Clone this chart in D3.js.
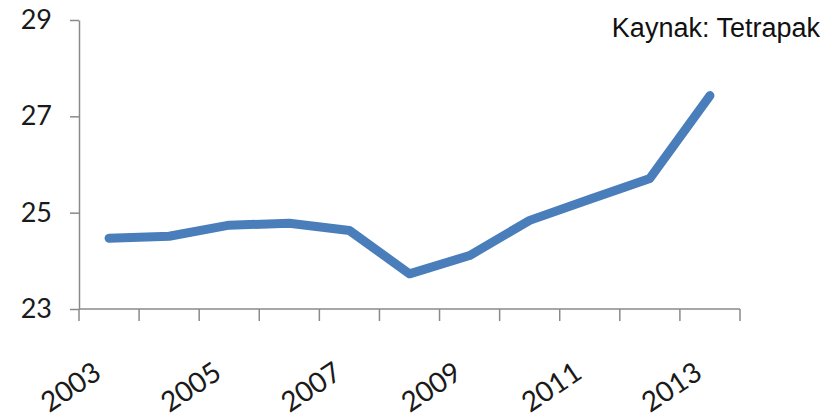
<!DOCTYPE html>
<html>
<head>
<meta charset="utf-8">
<script src="https://cdn.jsdelivr.net/npm/d3@7"></script>
<style>
  html, body { margin: 0; padding: 0; background: #fff; }
  svg { display: block; }
</style>
</head>
<body>
<svg id="chart" width="836" height="420"></svg>
<script>
const years = [2003, 2004, 2005, 2006, 2007, 2008, 2009, 2010, 2011, 2012, 2013];
const values = [24.47, 24.51, 24.74, 24.78, 24.63, 23.73, 24.11, 24.84, 25.28, 25.71, 27.43];
const yTicks = [23, 25, 27, 29];
const xLabels = [2003, 2005, 2007, 2009, 2011, 2013];
const sourceText = "Kaynak: Tetrapak";

(function () {
const svg = d3.select("#chart");
const mLeft = 79, mRight = 740, mTop = 20, mBottom = 309;

const x = d3.scaleBand().domain(years).range([mLeft, mRight]).padding(0);
const y = d3.scaleLinear().domain([23, 29]).range([mBottom, mTop]);

const axisColor = "#8a8a8a";

// Y axis
const yAxis = svg.append("g")
  .attr("transform", `translate(${mLeft},0)`)
  .call(d3.axisLeft(y).tickValues(yTicks).tickFormat(d3.format("d"))
    .tickSize(9).tickPadding(18).tickSizeOuter(0));
yAxis.select(".domain").attr("stroke", axisColor).attr("stroke-width", 1.5);
yAxis.selectAll(".tick line").attr("stroke", axisColor).attr("stroke-width", 1.5);
yAxis.selectAll(".tick text")
  .attr("font-family", "Lato, 'Open Sans', sans-serif")
  .attr("font-size", 27)
  .attr("fill", "#1a1a1a");

// X axis: baseline + boundary ticks
const xg = svg.append("g");
xg.append("line")
  .attr("x1", mLeft).attr("x2", mRight)
  .attr("y1", mBottom).attr("y2", mBottom)
  .attr("stroke", axisColor).attr("stroke-width", 1.5);
const boundaries = years.map(d => x(d)).concat([x(years[years.length - 1]) + x.bandwidth()]);
xg.selectAll("line.tick").data(boundaries).enter().append("line")
  .attr("class", "tick")
  .attr("x1", d => d).attr("x2", d => d)
  .attr("y1", mBottom).attr("y2", mBottom + 12)
  .attr("stroke", axisColor).attr("stroke-width", 1.5);

xg.selectAll("text.xl").data(xLabels).enter().append("text")
  .attr("class", "xl")
  .attr("transform", d => `translate(${x(d) + x.bandwidth() / 2 - 6},377) rotate(-34)`)
  .attr("text-anchor", "end")
  .attr("font-family", "Lato, 'Open Sans', sans-serif")
  .attr("font-size", 28)
  .attr("fill", "#1a1a1a")
  .text(d => d);

// Line
const line = d3.line()
  .x((d, i) => x(years[i]) + x.bandwidth() / 2)
  .y(d => y(d));
svg.append("path")
  .datum(values)
  .attr("d", line)
  .attr("fill", "none")
  .attr("stroke", "#4a7ebb")
  .attr("stroke-width", 9)
  .attr("stroke-linecap", "round")
  .attr("stroke-linejoin", "round");

// Source text
svg.append("text")
  .attr("x", 820).attr("y", 37)
  .attr("text-anchor", "end")
  .attr("font-family", "'Liberation Sans', Arial, sans-serif")
  .attr("font-size", 27)
  .attr("fill", "#111")
  .text(sourceText);
})();
</script>
</body>
</html>
